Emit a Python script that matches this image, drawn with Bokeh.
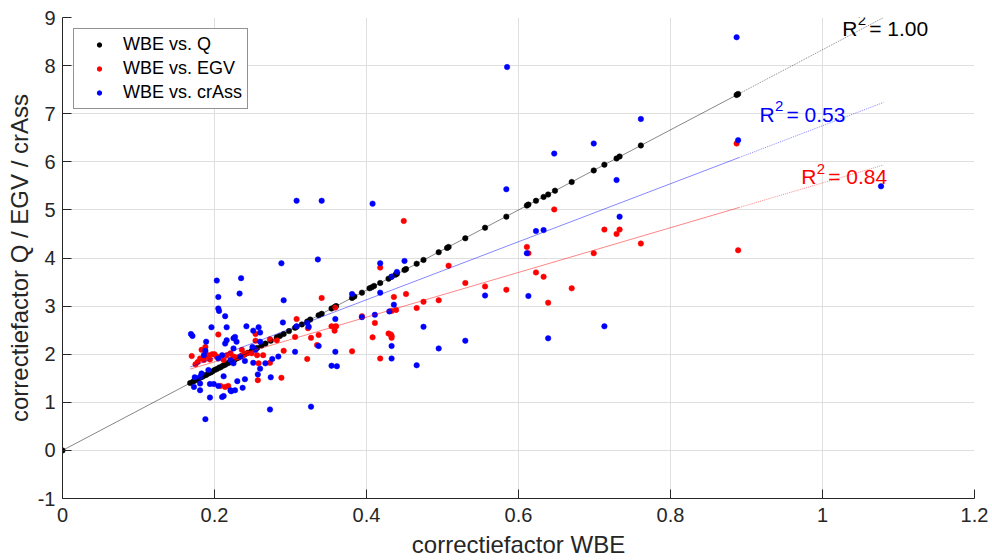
from bokeh.plotting import figure
from bokeh.models import (Range1d, FixedTicker, Legend, LegendItem, ColumnDataSource)
from bokeh.core.properties import value
from bokeh.embed import file_html
from bokeh.resources import INLINE

# ---- measured correction factors ----
wbe_q = [0.0, 0.168, 0.172, 0.175, 0.178, 0.181, 0.184, 0.186, 0.189, 0.192, 0.195,
         0.197, 0.200, 0.203, 0.206, 0.208, 0.211, 0.214, 0.217, 0.220, 0.223,
         0.226, 0.229, 0.232, 0.236, 0.240, 0.244, 0.249, 0.256, 0.262, 0.267,
         0.274, 0.282, 0.286, 0.291, 0.298, 0.306, 0.308, 0.315, 0.322, 0.326,
         0.337, 0.341, 0.354, 0.358, 0.360, 0.381, 0.384, 0.394, 0.404, 0.407,
         0.410, 0.418, 0.429, 0.433, 0.438, 0.440, 0.450, 0.452, 0.466, 0.475,
         0.495, 0.506, 0.508, 0.530, 0.556, 0.584, 0.611, 0.613, 0.623, 0.633,
         0.639, 0.648, 0.670, 0.699, 0.713, 0.729, 0.733, 0.761, 0.887, 0.889]
q = [0.00, 1.40, 1.43, 1.46, 1.48, 1.51, 1.53, 1.55, 1.57, 1.60, 1.62,
     1.64, 1.67, 1.69, 1.72, 1.73, 1.76, 1.78, 1.81, 1.83, 1.86,
     1.88, 1.91, 1.93, 1.97, 2.00, 2.03, 2.07, 2.13, 2.18, 2.22,
     2.28, 2.35, 2.38, 2.42, 2.48, 2.55, 2.57, 2.62, 2.68, 2.72,
     2.81, 2.84, 2.95, 2.98, 3.00, 3.17, 3.20, 3.28, 3.37, 3.39,
     3.42, 3.48, 3.57, 3.61, 3.65, 3.67, 3.75, 3.77, 3.88, 3.96,
     4.12, 4.21, 4.23, 4.41, 4.63, 4.86, 5.09, 5.11, 5.19, 5.27,
     5.32, 5.40, 5.58, 5.82, 5.94, 6.07, 6.11, 6.34, 7.39, 7.41]

wbe_egv = [0.170, 0.175, 0.178, 0.181, 0.183, 0.186, 0.187, 0.188, 0.190, 0.192,
           0.194, 0.197, 0.200, 0.203, 0.205, 0.208, 0.212, 0.214, 0.216, 0.218,
           0.221, 0.223, 0.225, 0.225, 0.229, 0.234, 0.236, 0.238, 0.243, 0.249,
           0.254, 0.254, 0.256, 0.257, 0.258, 0.264, 0.273, 0.273, 0.282, 0.288,
           0.291, 0.306, 0.308, 0.322, 0.323, 0.327, 0.335, 0.337, 0.341, 0.354,
           0.358, 0.358, 0.359, 0.360, 0.381, 0.394, 0.408, 0.411, 0.418, 0.418,
           0.429, 0.432, 0.433, 0.433, 0.433, 0.436, 0.439, 0.449, 0.452, 0.466,
           0.475, 0.495, 0.508, 0.530, 0.556, 0.584, 0.611, 0.613, 0.623, 0.633,
           0.639, 0.647, 0.670, 0.699, 0.713, 0.729, 0.733, 0.761, 0.887, 0.889]
egv = [1.96, 1.79, 1.84, 1.91, 2.09, 1.88, 1.98, 2.15, 1.95, 1.98,
       1.89, 2.00, 2.00, 1.95, 2.41, 1.34, 1.88, 1.32, 1.98, 1.34,
       2.02, 1.89, 1.95, 1.91, 1.93, 1.95, 2.09, 1.98, 2.02, 2.02,
       2.42, 2.28, 1.98, 1.46, 1.81, 1.98, 2.31, 1.82, 2.29, 1.51,
       2.07, 2.36, 2.73, 1.90, 2.54, 2.34, 2.19, 2.40, 3.17, 2.58,
       2.57, 2.49, 2.97, 2.58, 2.06, 2.79, 2.35, 2.65, 3.80, 1.91,
       2.43, 2.41, 2.38, 2.34, 2.90, 3.19, 2.92, 4.77, 3.25, 2.96,
       3.09, 3.12, 3.84, 3.48, 3.41, 3.34, 4.23, 4.10, 3.70, 3.61,
       3.07, 5.01, 3.37, 4.10, 4.59, 4.50, 4.59, 4.30, 6.38, 4.16]

wbe_crass = [0.169, 0.171, 0.173, 0.174, 0.181, 0.181, 0.181, 0.183, 0.186, 0.188,
             0.188, 0.189, 0.192, 0.194, 0.194, 0.196, 0.199, 0.203, 0.205, 0.205,
             0.206, 0.205, 0.205, 0.210, 0.210, 0.212, 0.212, 0.214, 0.214, 0.216,
             0.216, 0.221, 0.221, 0.222, 0.223, 0.225, 0.225, 0.225, 0.227, 0.227,
             0.229, 0.230, 0.233, 0.234, 0.235, 0.237, 0.240, 0.240, 0.242, 0.250,
             0.251, 0.251, 0.254, 0.257, 0.258, 0.260, 0.260, 0.260, 0.267, 0.273,
             0.274, 0.276, 0.284, 0.288, 0.290, 0.291, 0.306, 0.308, 0.308, 0.322,
             0.324, 0.327, 0.336, 0.337, 0.341, 0.354, 0.359, 0.359, 0.361, 0.381,
             0.394, 0.408, 0.411, 0.418, 0.418, 0.430, 0.433, 0.433, 0.433, 0.436,
             0.440, 0.450, 0.466, 0.475, 0.495, 0.530, 0.556, 0.584, 0.585, 0.611,
             0.613, 0.623, 0.633, 0.639, 0.647, 0.699, 0.713, 0.729, 0.733, 0.761,
             0.887, 0.889, 1.077]
crass = [2.42, 2.38, 1.32, 1.52, 1.53, 1.39, 1.25, 1.60, 1.98, 2.07,
         0.65, 2.26, 1.67, 1.38, 1.10, 2.56, 1.38, 3.53, 3.19, 2.95,
         2.90, 1.91, 1.34, 1.98, 1.11, 1.54, 1.13, 2.79, 2.22, 2.56,
         2.29, 1.88, 1.25, 1.23, 1.84, 2.33, 1.81, 2.12, 2.36, 1.25,
         2.26, 1.44, 3.26, 1.95, 3.58, 1.30, 1.86, 1.48, 2.58, 2.15,
         2.49, 1.82, 2.09, 1.58, 2.56, 2.45, 2.26, 1.70, 1.81, 0.85,
         1.52, 1.90, 1.95, 3.89, 2.66, 3.12, 2.05, 2.58, 5.19, 2.65,
         2.57, 0.91, 3.97, 2.17, 5.19, 1.76, 2.73, 2.05, 1.75, 3.25,
         2.77, 5.13, 2.82, 3.89, 3.28, 2.89, 3.61, 2.17, 1.91, 3.03,
         3.71, 3.94, 1.77, 2.57, 2.12, 2.28, 3.22, 5.43, 7.97, 4.10,
         3.21, 4.56, 4.58, 2.33, 6.17, 6.38, 2.58, 5.62, 4.86, 6.89,
         8.59, 6.45, 5.49]

# linear trend lines: y = slope * x + intercept
fit_slope = [8.33, 4.65, 6.03]
fit_intercept = [0.00, 0.91, 0.72]
fit_x_start = [0.0, 0.168, 0.168]
fit_x_end = [1.08, 1.08, 1.08]
fit_r2 = [1.00, 0.84, 0.53]

x_ticks = [0, 0.2, 0.4, 0.6, 0.8, 1.0, 1.2]
x_tick_labels = ["0", "0.2", "0.4", "0.6", "0.8", "1", "1.2"]
y_ticks = [-1, 0, 1, 2, 3, 4, 5, 6, 7, 8, 9]
y_tick_labels = ["-1", "0", "1", "2", "3", "4", "5", "6", "7", "8", "9"]

FONT = "Liberation Sans"
AXIS_GREY = "#262626"
GRID_GREY = "#dfdfdf"
colors = ["#000000", "#ff0000", "#0000ff"]
labels = ["WBE vs. Q", "WBE vs. EGV", "WBE vs. crAss"]

p = figure(width=992, height=560,
           x_range=Range1d(0, 1.2), y_range=Range1d(-1, 9),
           output_backend="svg", toolbar_location=None,
           min_border_left=62, min_border_right=18,
           min_border_top=17, min_border_bottom=62)
p.outline_line_color = None
p.background_fill_color = "white"

# axes
p.xaxis.ticker = FixedTicker(ticks=x_ticks)
p.yaxis.ticker = FixedTicker(ticks=y_ticks)
p.xaxis.major_label_overrides = {t: s for t, s in zip(x_ticks, x_tick_labels)}
p.yaxis.major_label_overrides = {t: s for t, s in zip(y_ticks, y_tick_labels)}
for ax in (p.xaxis[0], p.yaxis[0]):
    ax.axis_line_color = AXIS_GREY
    ax.axis_line_width = 1
    ax.major_tick_line_color = AXIS_GREY
    ax.major_tick_in = 9
    ax.major_tick_out = 0
    ax.minor_tick_line_color = None
    ax.major_label_text_font = FONT
    ax.major_label_text_font_size = "20px"
    ax.major_label_text_color = AXIS_GREY
    ax.axis_label_text_font = FONT
    ax.axis_label_text_font_size = "24px"
    ax.axis_label_text_font_style = "normal"
    ax.axis_label_text_color = AXIS_GREY
p.xaxis.axis_label = "correctiefactor WBE"
p.yaxis.axis_label = "correctiefactor Q / EGV / crAss"
p.xaxis.major_label_standoff = 9
p.xaxis.axis_label_standoff = 6
p.yaxis.major_label_standoff = 7
p.yaxis.axis_label_standoff = 2

p.xgrid.ticker = FixedTicker(ticks=x_ticks)
p.ygrid.ticker = FixedTicker(ticks=y_ticks)
p.grid.grid_line_color = GRID_GREY
p.grid.grid_line_width = 1

# scatter series
series = [(wbe_q, q), (wbe_egv, egv), (wbe_crass, crass)]
for (xs, ys), c in zip(series, colors):
    p.scatter(xs, ys, size=5.5, fill_color=c, line_color=c, line_width=0.5)

# trend lines: solid across the bulk of the data, dotted on the extension
split_x = 0.89
for slope, icpt, x0, x1, c in zip(fit_slope, fit_intercept, fit_x_start, fit_x_end, colors):
    xa = [x0, split_x]
    p.line(xa, [slope * v + icpt for v in xa], line_color=c, line_width=0.8, line_alpha=0.6)
    xb = [split_x, x1]
    p.line(xb, [slope * v + icpt for v in xb], line_color=c, line_width=0.8,
           line_alpha=0.6, line_dash="1 1")

# R² annotations, with a real raised "2"
label_src = ColumnDataSource(dict(
    x=[1.026, 0.972, 0.917],
    y=[8.78, 5.69, 6.99],
    base=["R"] * 3,
    sup=["2"] * 3,
    rest=[" = %.2f" % r for r in fit_r2],
    color=colors,
))
common = dict(source=label_src, text_color="color", text_font=value(FONT),
              text_align="left", text_baseline="alphabetic")
p.text(x="x", y="y", text="base", text_font_size="21px", **common)
p.text(x="x", y="y", text="sup", text_font_size="15px", x_offset=15.5, y_offset=-8, **common)
p.text(x="x", y="y", text="rest", text_font_size="21px", x_offset=27, **common)

# legend swatches: small dots, with no visible points of their own
nan = float("nan")
legend_renderers = [p.scatter([nan], [nan], size=4, fill_color=c, line_color=c) for c in colors]
legend = Legend(items=[LegendItem(label=l, renderers=[r]) for l, r in zip(labels, legend_renderers)],
                location="top_left", margin=11, padding=5, spacing=3,
                glyph_width=40, glyph_height=11, label_height=20, label_standoff=4,
                label_text_font=FONT, label_text_font_size="18px",
                label_text_color="#000000", label_text_baseline="middle",
                border_line_color=AXIS_GREY, border_line_width=1,
                background_fill_color="white", background_fill_alpha=1.0)
p.add_layout(legend)

open("out.html", "w").write(file_html(p, INLINE))
